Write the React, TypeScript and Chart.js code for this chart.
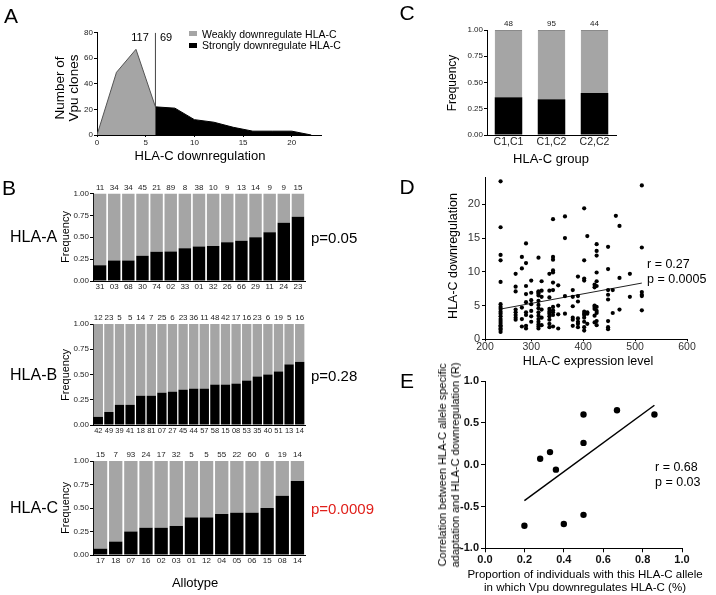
import React, { useEffect, useRef } from "react";
import { Chart, registerables } from "chart.js";
Chart.register(...registerables);

const W = 716;
const H = 595;
const SANS = "'Liberation Sans', Arial, sans-serif";
const GREY = "#a5a5a5";
Chart.defaults.font.family = SANS;

// ---------- Panel A ----------
const aWeakX = [0, 2, 4, 6];
const aWeakY = [0, 49, 67, 22];
const aStrongX = [6, 8, 10, 12, 14, 16, 18, 20, 22];
const aStrongY = [22, 21, 12, 10, 6, 3, 3, 3, 0];
const aCutoff = 6;
const aWeakCount = 117;
const aStrongCount = 69;

// ---------- Panel B ----------
const hlaALabels = ["31", "03", "68", "30", "74", "02", "33", "01", "32", "26", "66", "29", "11", "24", "23"];
const hlaACounts = [11, 34, 34, 45, 21, 89, 8, 38, 10, 9, 13, 14, 9, 9, 15];
const hlaAStrong = [0.18, 0.235, 0.235, 0.29, 0.333, 0.337, 0.375, 0.395, 0.4, 0.444, 0.46, 0.5, 0.556, 0.667, 0.733];

const hlaBLabels = ["42", "49", "39", "41", "18", "81", "07", "27", "45", "44", "57", "58", "15", "08", "53", "35", "40", "51", "13", "14"];
const hlaBCounts = [12, 23, 5, 5, 14, 7, 25, 6, 23, 36, 11, 48, 42, 17, 16, 23, 6, 19, 5, 16];
const hlaBStrong = [0.08, 0.13, 0.2, 0.2, 0.29, 0.29, 0.32, 0.33, 0.35, 0.36, 0.36, 0.4, 0.4, 0.41, 0.44, 0.48, 0.5, 0.53, 0.6, 0.625];

const hlaCLabels = ["17", "18", "07", "16", "02", "03", "01", "12", "04", "05", "06", "15", "08", "14"];
const hlaCCounts = [15, 7, 93, 24, 17, 32, 5, 5, 55, 22, 60, 6, 19, 14];
const hlaCStrong = [0.067, 0.143, 0.25, 0.29, 0.29, 0.31, 0.4, 0.4, 0.436, 0.45, 0.45, 0.5, 0.63, 0.786];

const freqTicks = [0, 0.25, 0.5, 0.75, 1];

// ---------- Panel C ----------
const cGroups = ["C1,C1", "C1,C2", "C2,C2"];
const cCounts = [48, 95, 44];
const cStrong = [0.36, 0.34, 0.4];

// ---------- Panel D ----------
const dExprLevels = [241, 270, 282, 290, 300, 314, 320, 335, 342, 352, 365, 380, 390, 402, 408, 422, 426, 448, 457, 463, 470, 490, 513];
const dDownByLevel = [
  [23.4, 16.6, 12.5, 11.7, 8.5, 5.2, 4.8, 4.5, 4.1, 3.8, 3.4, 3.0, 2.7, 2.4, 2.1, 1.9, 1.6, 1.4, 1.1],
  [9.7, 7.8, 7.1, 4.4, 4.0, 3.6, 3.2, 2.9],
  [12.2, 10.5, 4.7, 3.0, 1.9],
  [14.2, 11.3, 7.9, 6.7, 5.5, 4.0, 3.6, 2.0, 1.6],
  [8.7, 6.9, 5.8, 5.2, 4.2, 3.4, 2.6],
  [12.1, 7.1, 7.0, 6.8, 6.5, 5.7, 5.1, 4.6, 4.0, 3.5, 3.0, 2.6, 2.2, 1.9, 1.6],
  [8.6, 7.2, 6.3, 4.4, 3.2, 2.1],
  [9.7, 7.2, 6.2, 4.5, 4.1, 3.8, 3.4, 2.9, 2.3, 1.8],
  [17.8, 12.2, 11.8, 10.2, 9.9, 8.4, 7.3, 4.8, 4.3, 4.0, 3.6, 1.9],
  [8.0, 5.0, 3.7, 1.6],
  [18.2, 15.0, 6.4, 3.8],
  [7.3, 6.3, 4.9, 3.2, 2.9, 2.0],
  [9.3, 6.4, 5.6, 3.1, 2.6, 2.3, 1.8],
  [19.4, 11.7, 9.0, 8.7, 4.1, 3.8, 3.6, 3.2, 2.6, 1.8, 1.3],
  [15.3, 4.0, 3.8, 2.3],
  [8.1, 7.7, 5.0, 4.8, 4.5, 3.5, 2.5],
  [14.1, 13.1, 12.4, 9.9, 8.6, 7.9, 4.8, 4.2, 3.9, 2.7, 2.1],
  [13.7, 10.4, 7.3, 6.6, 5.9, 2.7, 1.8, 1.5],
  [7.3, 3.9],
  [18.3],
  [16.8, 9.1, 4.4],
  [9.7, 6.3],
  [22.8, 13.6, 7.0, 6.6, 6.4, 4.3],
];
const dFitX = [241, 513];
const dFitY = [4.48, 8.33];
const dXTicks = [300, 400, 500, 600];
const dXStartLabel = 200;

// ---------- Panel E ----------
const eProp = [0.2, 0.28, 0.33, 0.36, 0.4, 0.5, 0.5, 0.5, 0.67, 0.86];
const eCorr = [-0.73, 0.07, 0.15, -0.06, -0.71, 0.26, 0.6, -0.6, 0.65, 0.6];
const eFitX = [0.2, 0.86];
const eFitY = [-0.43, 0.71];

// ---------- helpers ----------
type Rect = { L: number; T: number; R: number; B: number };

function place(r: Rect, yW = 40, xH = 30) {
  return {
    padding: { left: r.L - yW, top: r.T, right: W - r.R, bottom: H - r.B - xH },
    fitY: (s: any) => {
      s.width = yW;
    },
    fitX: (s: any) => {
      s.height = xH;
    },
  };
}

function axis(fontSize: number, tickLen: number, pad: number, extra: any = {}) {
  return {
    border: { display: true, color: "#000", width: 1 },
    grid: { display: true, drawOnChartArea: false, drawTicks: tickLen > 0, tickLength: tickLen, color: "#000", lineWidth: 1 },
    ticks: {
      font: { size: fontSize, family: SANS, ...(extra.font || {}) },
      color: extra.color || "#222",
      padding: pad,
      maxRotation: 0,
      minRotation: 0,
      autoSkip: false,
    },
  };
}

const baseOpts = {
  animation: false,
  responsive: false,
  events: [],
  plugins: { legend: { display: false }, tooltip: { enabled: false } },
};

function countPlugin(counts: number[], size: number, offset: number) {
  return {
    id: "counts",
    afterDatasetsDraw(chart: any) {
      const { ctx, chartArea, scales } = chart;
      ctx.save();
      ctx.font = `${size}px ${SANS}`;
      ctx.fillStyle = "#222";
      ctx.textAlign = "center";
      ctx.textBaseline = "middle";
      counts.forEach((c, i) => ctx.fillText(String(c), scales.x.getPixelForValue(i), chartArea.top - offset));
      ctx.restore();
    },
  };
}

function stackedBar(labels: string[], counts: number[], strong: number[], r: Rect, barPct: number, labelSize: number, countSize: number, grey: any = {}) {
  const p = place(r, 40, 20);
  const xa = axis(labelSize, 0, 1);
  const ya = axis(8, 3, 1);
  return {
    type: "bar",
    data: {
      labels,
      datasets: [
        { data: strong, backgroundColor: "#000", barPercentage: barPct, categoryPercentage: 1 },
        { data: strong.map((v) => 1 - v), backgroundColor: GREY, barPercentage: barPct, categoryPercentage: 1, ...grey },
      ],
    },
    options: {
      ...baseOpts,
      layout: { padding: p.padding },
      scales: {
        x: { ...xa, stacked: true, afterFit: p.fitX },
        y: {
          ...ya,
          stacked: true,
          min: 0,
          max: 1,
          afterFit: p.fitY,
          afterBuildTicks: (s: any) => {
            s.ticks = freqTicks.map((v) => ({ value: v }));
          },
          ticks: { ...ya.ticks, callback: (v: any) => Number(v).toFixed(2) },
        },
      },
    },
    plugins: [countPlugin(counts, countSize, 6)],
  };
}

// ---------- chart configs ----------
function configA() {
  const p = place({ L: 97, T: 32.7, R: 321, B: 135 }, 40, 20);
  const xa = axis(8, 2, 1);
  const ya = axis(8, 3, 1);
  return {
    type: "line",
    data: {
      datasets: [
        {
          data: aWeakX.map((x, i) => ({ x, y: aWeakY[i] })),
          backgroundColor: GREY,
          borderColor: "#555",
          borderWidth: 1,
          fill: "origin",
          pointRadius: 0,
          tension: 0,
        },
        {
          data: aStrongX.map((x, i) => ({ x, y: aStrongY[i] })),
          backgroundColor: "#000",
          borderColor: "#000",
          borderWidth: 1,
          fill: "origin",
          pointRadius: 0,
          tension: 0,
        },
        {
          data: [
            { x: aCutoff, y: 0 },
            { x: aCutoff, y: 80 },
          ],
          borderColor: "#444",
          borderWidth: 1,
          fill: false,
          pointRadius: 0,
        },
      ],
    },
    options: {
      ...baseOpts,
      layout: { padding: p.padding },
      scales: {
        x: { ...xa, type: "linear", min: 0, max: 23, afterFit: p.fitX, ticks: { ...xa.ticks, stepSize: 5, includeBounds: false } },
        y: { ...ya, min: 0, max: 80, afterFit: p.fitY, ticks: { ...ya.ticks, stepSize: 20 } },
      },
    },
  };
}

function configD() {
  const p = place({ L: 485, T: 177.3, R: 687, B: 339.3 }, 40, 20);
  const xa = axis(10.5, 2, 0, { color: "#333" });
  const ya = axis(11, 3, 2, { color: "#333" });
  const pts: { x: number; y: number }[] = [];
  dExprLevels.forEach((x, i) => dDownByLevel[i].forEach((y) => pts.push({ x, y })));
  const xmin = 211;
  return {
    type: "scatter",
    data: {
      datasets: [
        { data: pts, backgroundColor: "#000", borderColor: "#000", pointRadius: 2.1, borderWidth: 0 },
        {
          data: dFitX.map((x, i) => ({ x, y: dFitY[i] })),
          showLine: true,
          borderColor: "#222",
          borderWidth: 1,
          pointRadius: 0,
        },
      ],
    },
    options: {
      ...baseOpts,
      layout: { padding: p.padding },
      scales: {
        x: {
          ...xa,
          type: "linear",
          min: xmin,
          max: 600,
          afterFit: p.fitX,
          afterBuildTicks: (s: any) => {
            s.ticks = [xmin, ...dXTicks].map((v) => ({ value: v }));
          },
          ticks: { ...xa.ticks, callback: (v: any) => (Number(v) === xmin ? String(dXStartLabel) : String(v)) },
        },
        y: { ...ya, min: 0, max: 24, afterFit: p.fitY, ticks: { ...ya.ticks, stepSize: 5, includeBounds: false } },
      },
    },
  };
}

function configE() {
  const p = place({ L: 485, T: 381, R: 682, B: 548.3 }, 45, 20);
  const xa = axis(11, 4, 1, { font: { weight: "bold" }, color: "#111" });
  const ya = axis(11, 4, 2, { font: { weight: "bold" }, color: "#111" });
  return {
    type: "scatter",
    data: {
      datasets: [
        { data: eProp.map((x, i) => ({ x, y: eCorr[i] })), backgroundColor: "#000", borderColor: "#000", pointRadius: 3.2, borderWidth: 0 },
        {
          data: eFitX.map((x, i) => ({ x, y: eFitY[i] })),
          showLine: true,
          borderColor: "#000",
          borderWidth: 1.5,
          pointRadius: 0,
        },
      ],
    },
    options: {
      ...baseOpts,
      layout: { padding: p.padding },
      scales: {
        x: {
          ...xa,
          type: "linear",
          min: 0,
          max: 1,
          afterFit: p.fitX,
          ticks: { ...xa.ticks, stepSize: 0.2, callback: (v: any) => Number(v).toFixed(1) },
        },
        y: {
          ...ya,
          min: -1,
          max: 1,
          afterFit: p.fitY,
          ticks: { ...ya.ticks, stepSize: 0.5, callback: (v: any) => Number(v).toFixed(1) },
        },
      },
    },
  };
}

const configs: (() => any)[] = [
  configA,
  () => stackedBar(hlaALabels, hlaACounts, hlaAStrong, { L: 93, T: 193.5, R: 305, B: 281 }, 0.88, 8, 8),
  () => stackedBar(hlaBLabels, hlaBCounts, hlaBStrong, { L: 93, T: 324, R: 305, B: 425 }, 0.88, 7.5, 8),
  () => stackedBar(hlaCLabels, hlaCCounts, hlaCStrong, { L: 93, T: 461, R: 305, B: 555 }, 0.88, 8, 8),
  () =>
    stackedBar(cGroups, cCounts, cStrong, { L: 487, T: 30, R: 616, B: 135 }, 0.64, 10.5, 8, {
      borderColor: "#8a8a8a",
      borderWidth: 1,
    }),
  configD,
  configE,
];

function ChartLayer({ make }: { make: () => any }) {
  const ref = useRef<HTMLCanvasElement>(null);
  useEffect(() => {
    const chart = new Chart(ref.current as HTMLCanvasElement, make());
    return () => chart.destroy();
  }, []);
  return (
    <canvas
      ref={ref}
      width={W}
      height={H}
      style={{ position: "absolute", left: 0, top: 0, width: W, height: H, display: "block" }}
    />
  );
}

type TxtProps = {
  x: number;
  y: number;
  size: number;
  children: React.ReactNode;
  anchor?: "start" | "middle" | "end";
  rotate?: boolean;
  color?: string;
  weight?: string;
  lh?: number;
};

function Txt({ x, y, size, children, anchor = "middle", rotate = false, color = "#000", weight = "normal", lh }: TxtProps) {
  const tx = anchor === "middle" ? "-50%" : anchor === "end" ? "-100%" : "0";
  return (
    <div
      style={{
        position: "absolute",
        left: x,
        top: y,
        transform: `translate(${rotate ? "-50%" : tx},-50%)${rotate ? " rotate(-90deg)" : ""}`,
        fontFamily: SANS,
        fontSize: size,
        fontWeight: weight as any,
        color,
        whiteSpace: "pre",
        textAlign: "center",
        lineHeight: lh ? `${lh}px` : "normal",
      }}
    >
      {children}
    </div>
  );
}

export default function App() {
  const bRows = [
    { name: "HLA-A", p: "p=0.05", T: 193.5, B: 281, color: "#000" },
    { name: "HLA-B", p: "p=0.28", T: 324, B: 425, color: "#000" },
    { name: "HLA-C", p: "p=0.0009", T: 461, B: 555, color: "#e0201b" },
  ];
  return (
    <div style={{ position: "fixed", left: 0, top: 0, width: W, height: H, background: "#fff", overflow: "hidden" }}>
      {configs.map((c, i) => (
        <ChartLayer key={i} make={c} />
      ))}

      {/* Panel A */}
      <Txt x={11} y={16} size={21}>A</Txt>
      <Txt x={140} y={37} size={11}>{String(aWeakCount)}</Txt>
      <Txt x={166} y={37} size={11}>{String(aStrongCount)}</Txt>
      <div style={{ position: "absolute", left: 189, top: 31, width: 8, height: 5, background: GREY }} />
      <div style={{ position: "absolute", left: 189, top: 42.5, width: 8, height: 5, background: "#000" }} />
      <Txt x={202} y={33.5} size={10.5} anchor="start">Weakly downregulate HLA-C</Txt>
      <Txt x={202} y={45} size={10.5} anchor="start">Strongly downregulate HLA-C</Txt>
      <Txt x={67} y={88} size={13.5} rotate lh={14}>{"Number of\nVpu clones"}</Txt>
      <Txt x={200} y={155} size={13}>HLA-C downregulation</Txt>

      {/* Panel B */}
      <Txt x={9} y={188} size={21}>B</Txt>
      {bRows.map((r) => (
        <React.Fragment key={r.name}>
          <Txt x={10} y={(r.T + r.B) / 2} size={16} anchor="start">{r.name}</Txt>
          <Txt x={65} y={(r.T + r.B) / 2} size={11} rotate>Frequency</Txt>
          <Txt x={311} y={(r.T + r.B) / 2} size={15} anchor="start" color={r.color}>{r.p}</Txt>
        </React.Fragment>
      ))}
      <Txt x={195} y={582} size={13}>Allotype</Txt>

      {/* Panel C */}
      <Txt x={407} y={13} size={21}>C</Txt>
      <Txt x={452} y={83} size={12} rotate>Frequency</Txt>
      <Txt x={551} y={158} size={13}>HLA-C group</Txt>

      {/* Panel D */}
      <Txt x={407} y={187} size={21}>D</Txt>
      <Txt x={453} y={256} size={12.5} rotate>HLA-C downregulation</Txt>
      <Txt x={588} y={361} size={12.5}>HLA-C expression level</Txt>
      <Txt x={647} y={264} size={12.5} anchor="start">r = 0.27</Txt>
      <Txt x={647} y={279} size={12.5} anchor="start">p = 0.0005</Txt>

      {/* Panel E */}
      <Txt x={407} y={381} size={21}>E</Txt>
      <Txt x={449} y={465} size={11} rotate lh={13}>
        {"Correlation between HLA-C allele specific\nadaptation and HLA-C downregulation (R)"}
      </Txt>
      <Txt x={585} y={580} size={11.5} lh={12.5}>
        {"Proportion of individuals with this HLA-C allele\nin which Vpu downregulates HLA-C (%)"}
      </Txt>
      <Txt x={655} y={467} size={12.5} anchor="start">r = 0.68</Txt>
      <Txt x={655} y={482} size={12.5} anchor="start">p = 0.03</Txt>
    </div>
  );
}
